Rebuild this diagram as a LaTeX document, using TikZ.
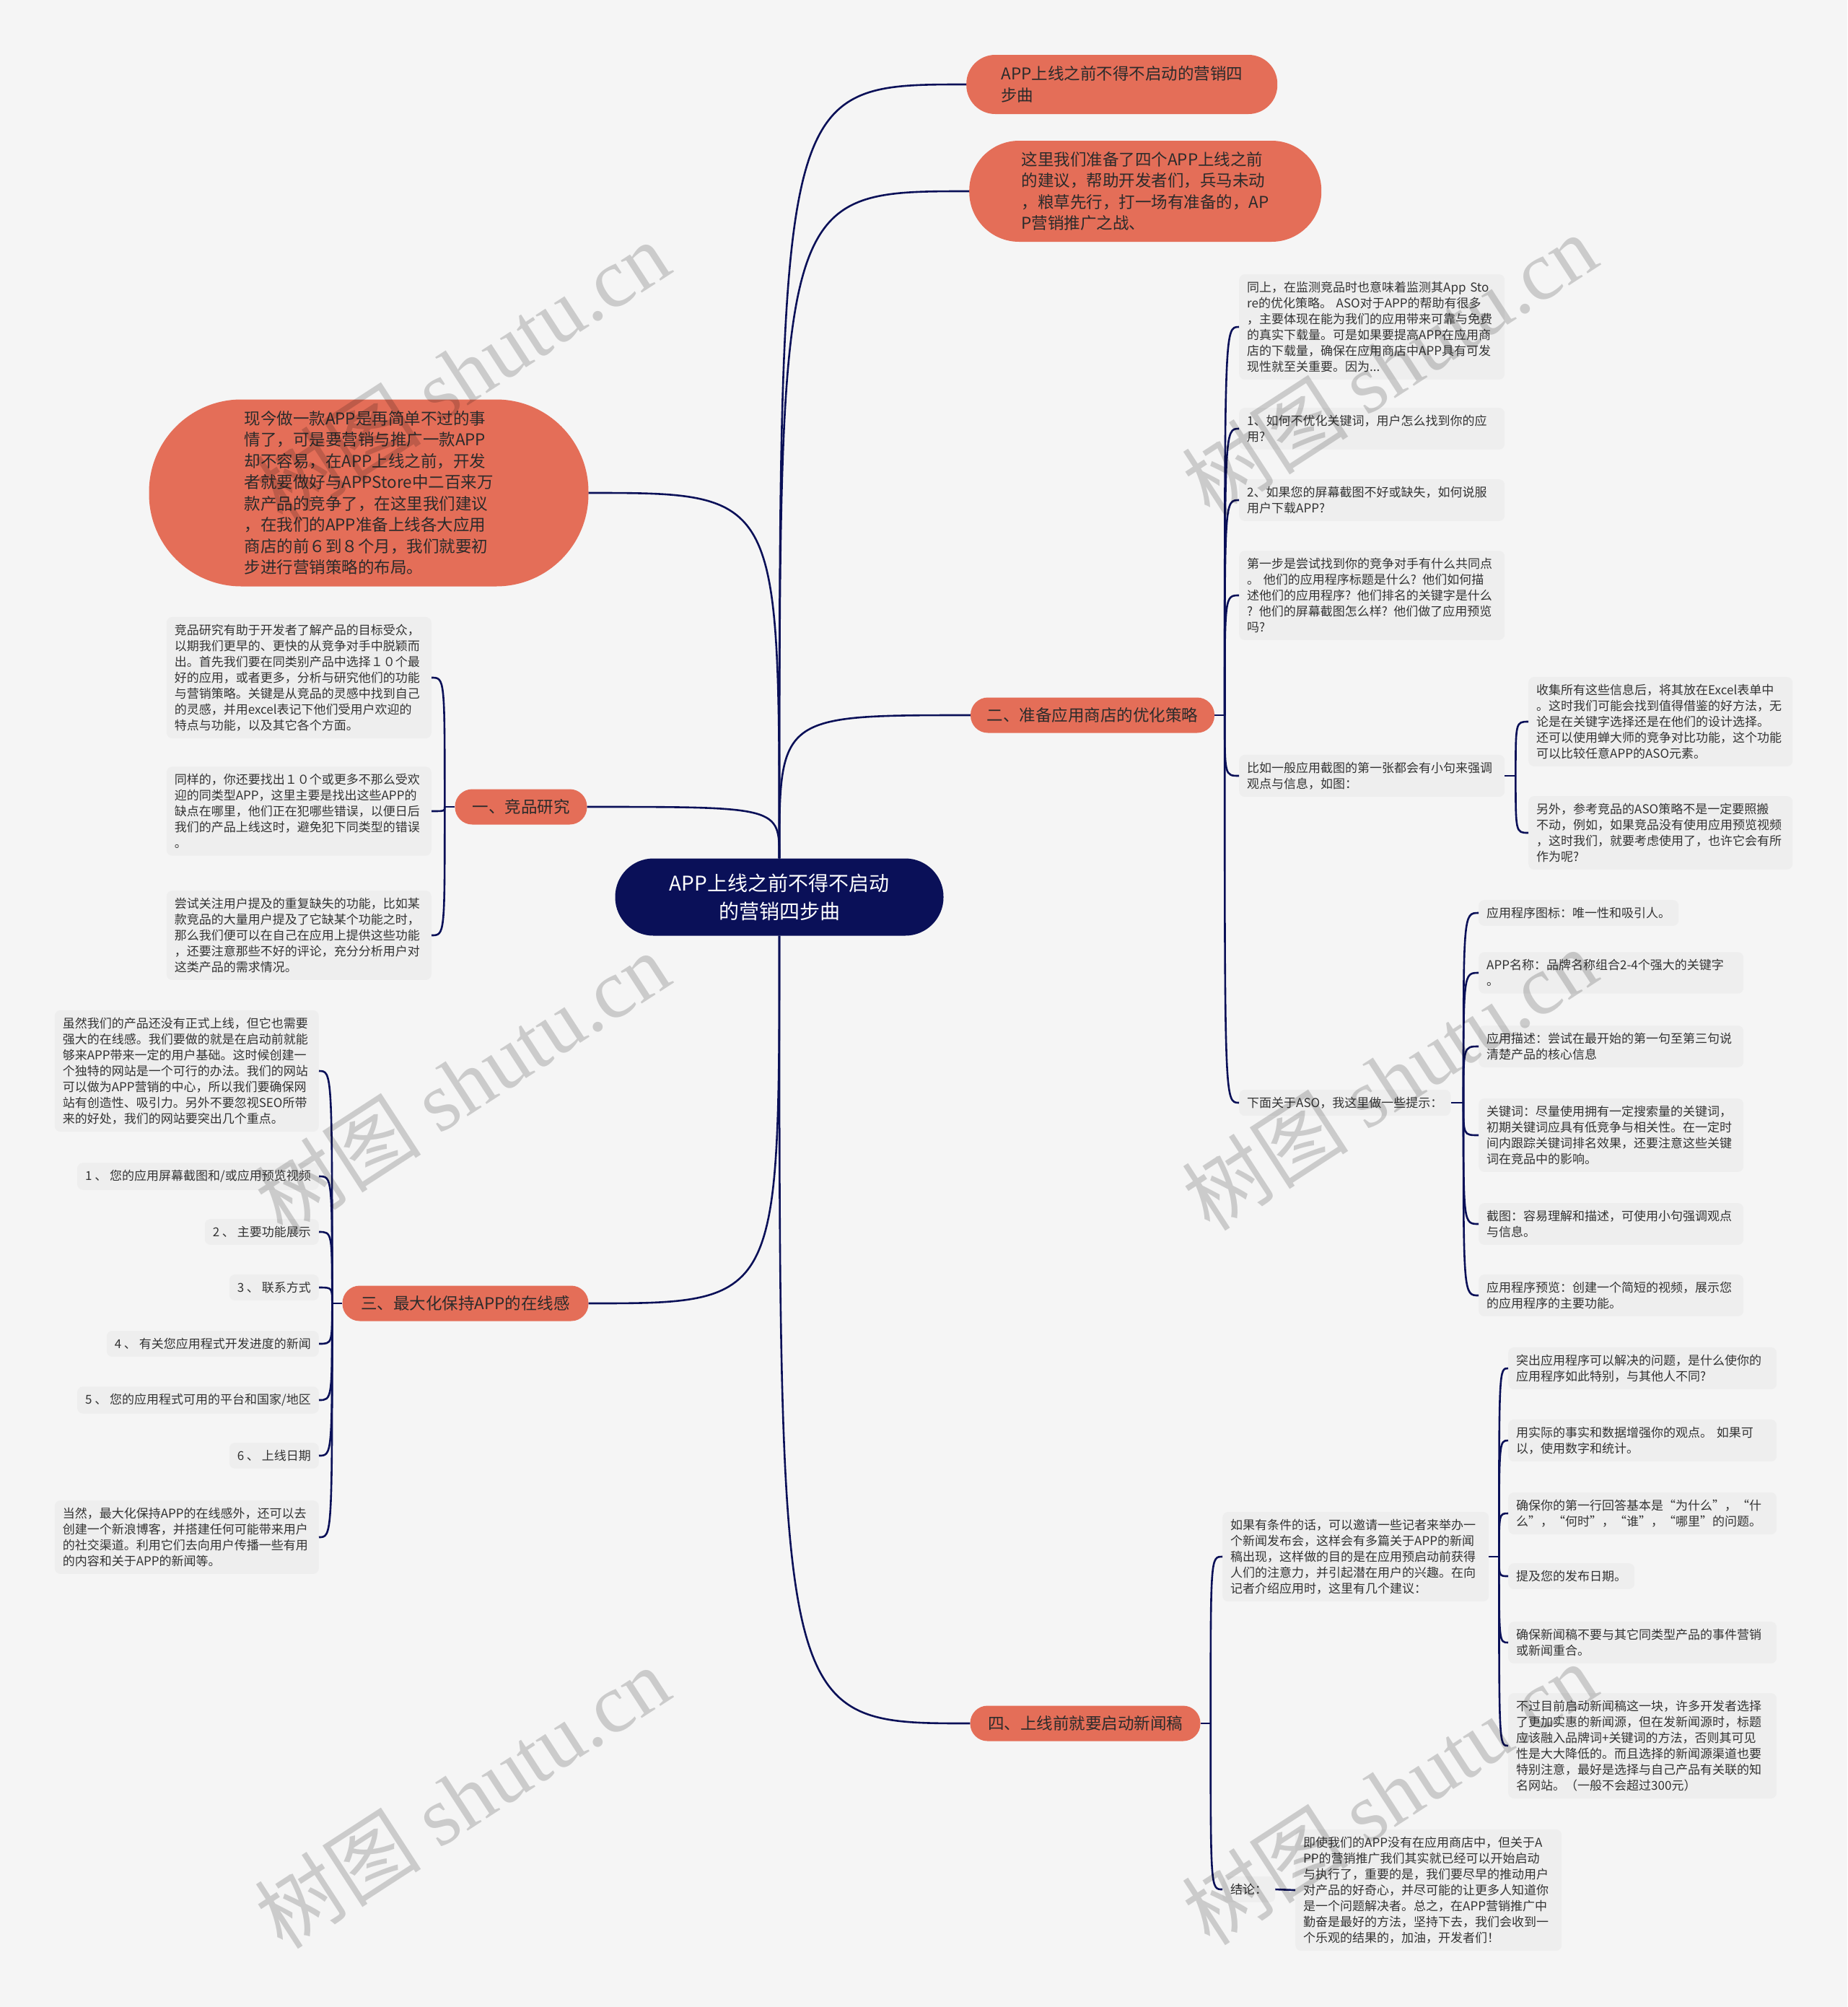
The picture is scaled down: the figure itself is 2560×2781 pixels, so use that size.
\documentclass[tikz,border=0pt]{standalone}
\usepackage{fontspec}
\setmainfont{Noto Sans CJK SC}
\newfontfamily\wmfont{Liberation Serif}
\definecolor{bgc}{HTML}{F5F5F5}
\definecolor{navy}{HTML}{0A1058}
\definecolor{coral}{HTML}{E46E58}
\definecolor{leafc}{HTML}{EEEEEE}
\definecolor{txt}{HTML}{333333}
\definecolor{ctxt}{HTML}{2B2B2B}
\begin{document}
\begin{tikzpicture}[x=1pt,y=-1pt,
 conn/.style={draw=navy,line width=2.6pt},
 leaf/.style={fill=leafc,rounded corners=8pt,inner xsep=11pt,inner ysep=10pt,font=\fontsize{17}{22}\selectfont,text=txt,align=left},
 leafw/.style={leaf,text width=#1},
 pill/.style={fill=coral,text=ctxt,font=\fontsize{22.5}{29.5}\selectfont,align=left,inner sep=0pt},
 branch/.style={fill=coral,text=ctxt,font=\fontsize{22.5}{27}\selectfont,align=center,inner sep=0pt,rounded corners=24pt,minimum height=49pt},
 wm/.style={text=black,text opacity=0.17,rotate=33,font=\fontsize{116}{116}\selectfont,inner sep=0pt}
]
\fill[bgc] (0,0) rectangle (2560,2781);
\useasboundingbox (0,0) rectangle (2560,2781);

% root and main nodes
\node[fill=navy,text=white,font=\fontsize{28}{39}\selectfont,align=center,minimum width=455pt,minimum height=107pt,rounded corners=53pt,inner sep=0pt] (root) at (1080,1243) {APP上线之前不得不启动\\的营销四步曲};

\node[pill,minimum width=431pt,minimum height=82pt,rounded corners=40pt,anchor=west] (t1) at (1339,117) {APP上线之前不得不启动的营销四\\步曲};
\node[pill,minimum width=488pt,minimum height=140pt,rounded corners=69pt,anchor=west] (t2) at (1343,265) {这里我们准备了四个APP上线之前\\的建议，帮助开发者们，兵马未动\\，粮草先行，打一场有准备的，AP\\P营销推广之战、};
\node[pill,minimum width=609pt,minimum height=259pt,rounded corners=128pt] (lb) at (511,683) {现今做一款APP是再简单不过的事\\情了，可是要营销与推广一款APP\\却不容易，在APP上线之前，开发\\者就要做好与APPStore中二百来万\\款产品的竞争了，在这里我们建议\\，在我们的APP准备上线各大应用\\商店的前６到８个月，我们就要初\\步进行营销策略的布局。};

\node[branch,minimum width=183pt] (b1) at (722,1118) {一、竞品研究};
\node[branch,minimum width=338pt] (b2) at (1514,991) {二、准备应用商店的优化策略};
\node[branch,minimum width=341pt] (b3) at (645,1806) {三、最大化保持APP的在线感};
\node[branch,minimum width=319pt] (b4) at (1504,2388) {四、上线前就要启动新闻稿};

% branch 2 leaves
\node[leafw=346pt,anchor=west] (c1) at (1717,453) {同上，在监测竞品时也意味着监测其App Sto\\re的优化策略。 ASO对于APP的帮助有很多\\，主要体现在能为我们的应用带来可靠与免费\\的真实下载量。可是如果要提高APP在应用商\\店的下载量，确保在应用商店中APP具有可发\\现性就至关重要。因为...};
\node[leafw=346pt,anchor=west] (c2) at (1717,594) { 1、如何不优化关键词，用户怎么找到你的应\\用?};
\node[leafw=346pt,anchor=west] (c3) at (1717,693) { 2、如果您的屏幕截图不好或缺失，如何说服\\用户下载APP?};
\node[leafw=346pt,anchor=west] (c4) at (1717,825) {第一步是尝试找到你的竞争对手有什么共同点\\。 他们的应用程序标题是什么? 他们如何描\\述他们的应用程序? 他们排名的关键字是什么\\? 他们的屏幕截图怎么样? 他们做了应用预览\\吗?};
\node[leafw=346pt,anchor=west] (c5) at (1717,1075) {比如一般应用截图的第一张都会有小句来强调\\观点与信息，如图：};
\node[leafw=344pt,anchor=west] (c5a) at (2118,1000) {收集所有这些信息后，将其放在Excel表单中\\。这时我们可能会找到值得借鉴的好方法，无\\论是在关键字选择还是在他们的设计选择。\\还可以使用蝉大师的竞争对比功能，这个功能\\可以比较任意APP的ASO元素。};
\node[leafw=344pt,anchor=west] (c5b) at (2118,1154) {另外，参考竞品的ASO策略不是一定要照搬\\不动，例如，如果竞品没有使用应用预览视频\\，这时我们，就要考虑使用了，也许它会有所\\作为呢?};
\node[leaf,anchor=west] (c6) at (1717,1528) {下面关于ASO，我这里做一些提示：};
\node[leaf,anchor=west] (i1) at (2049,1265) {应用程序图标：唯一性和吸引人。};
\node[leafw=345pt,anchor=west] (i2) at (2049,1348) {APP名称：品牌名称组合2-4个强大的关键字\\。};
\node[leafw=345pt,anchor=west] (i3) at (2049,1450) {应用描述：尝试在最开始的第一句至第三句说\\清楚产品的核心信息};
\node[leafw=345pt,anchor=west] (i4) at (2049,1573) {关键词：尽量使用拥有一定搜索量的关键词，\\初期关键词应具有低竞争与相关性。在一定时\\间内跟踪关键词排名效果，还要注意这些关键\\词在竞品中的影响。};
\node[leafw=345pt,anchor=west] (i5) at (2049,1696) {截图：容易理解和描述，可使用小句强调观点\\与信息。};
\node[leafw=345pt,anchor=west] (i6) at (2049,1795) {应用程序预览：创建一个简短的视频，展示您\\的应用程序的主要功能。};

% branch 1 leaves
\node[leafw=345pt,anchor=east] (a1) at (598,939) {竞品研究有助于开发者了解产品的目标受众，\\以期我们更早的、更快的从竞争对手中脱颖而\\出。首先我们要在同类别产品中选择１０个最\\好的应用，或者更多，分析与研究他们的功能\\与营销策略。关键是从竞品的灵感中找到自己\\的灵感，并用excel表记下他们受用户欢迎的\\特点与功能，以及其它各个方面。};
\node[leafw=345pt,anchor=east] (a2) at (598,1124) {同样的，你还要找出１０个或更多不那么受欢\\迎的同类型APP，这里主要是找出这些APP的\\缺点在哪里，他们正在犯哪些错误，以便日后\\我们的产品上线这时，避免犯下同类型的错误\\。};
\node[leafw=345pt,anchor=east] (a3) at (598,1296) {尝试关注用户提及的重复缺失的功能，比如某\\款竞品的大量用户提及了它缺某个功能之时，\\那么我们便可以在自己在应用上提供这些功能\\，还要注意那些不好的评论，充分分析用户对\\这类产品的需求情况。};

% branch 3 leaves
\node[leafw=344pt,anchor=east] (d0) at (442,1484) {虽然我们的产品还没有正式上线，但它也需要\\强大的在线感。我们要做的就是在启动前就能\\够来APP带来一定的用户基础。这时候创建一\\个独特的网站是一个可行的办法。我们的网站\\可以做为APP营销的中心，所以我们要确保网\\站有创造性、吸引力。另外不要忽视SEO所带\\来的好处，我们的网站要突出几个重点。};
\node[leaf,anchor=east] (d1) at (442,1630) {1 、 您的应用屏幕截图和/或应用预览视频};
\node[leaf,anchor=east] (d2) at (442,1707) {2 、 主要功能展示};
\node[leaf,anchor=east] (d3) at (442,1784) {3 、 联系方式};
\node[leaf,anchor=east] (d4) at (442,1862) {4 、 有关您应用程式开发进度的新闻};
\node[leaf,anchor=east] (d5) at (442,1940) {5 、 您的应用程式可用的平台和国家/地区};
\node[leaf,anchor=east] (d6) at (442,2017) {6 、 上线日期};
\node[leafw=344pt,anchor=east] (d7) at (442,2130) {当然，最大化保持APP的在线感外，还可以去\\创建一个新浪博客，并搭建任何可能带来用户\\的社交渠道。利用它们去向用户传播一些有用\\的内容和关于APP的新闻等。};

% branch 4 leaves
\node[leafw=347pt,anchor=west] (m) at (1694,2157) {如果有条件的话，可以邀请一些记者来举办一\\个新闻发布会，这样会有多篇关于APP的新闻\\稿出现，这样做的目的是在应用预启动前获得\\人们的注意力，并引起潜在用户的兴趣。在向\\记者介绍应用时，这里有几个建议：};
\node[leafw=350pt,anchor=west] (m1) at (2090,1896) {突出应用程序可以解决的问题，是什么使你的\\应用程序如此特别，与其他人不同?};
\node[leafw=350pt,anchor=west] (m2) at (2090,1996) {用实际的事实和数据增强你的观点。 如果可\\以，使用数字和统计。};
\node[leafw=350pt,anchor=west] (m3) at (2090,2097) {确保你的第一行回答基本是“为什么”，“什\\么”，“何时”，“谁”，“哪里”的问题。};
\node[leaf,anchor=west] (m4) at (2090,2184) {提及您的发布日期。};
\node[leafw=350pt,anchor=west] (m5) at (2090,2276) {确保新闻稿不要与其它同类型产品的事件营销\\或新闻重合。};
\node[leafw=350pt,anchor=west] (m6) at (2090,2419) {不过目前启动新闻稿这一块，许多开发者选择\\了更加实惠的新闻源，但在发新闻源时，标题\\应该融入品牌词+关键词的方法，否则其可见\\性是大大降低的。而且选择的新闻源渠道也要\\特别注意，最好是选择与自己产品有关联的知\\名网站。（一般不会超过300元）};
\node[leaf,anchor=west] (k) at (1694,2618) {结论：};
\node[leafw=347pt,anchor=west] (k1) at (1795,2619) {即使我们的APP没有在应用商店中，但关于A\\PP的营销推广我们其实就已经可以开始启动\\与执行了，重要的是，我们要尽早的推动用户\\对产品的好奇心，并尽可能的让更多人知道你\\是一个问题解决者。总之，在APP营销推广中\\勤奋是最好的方法，坚持下去，我们会收到一\\个乐观的结果的，加油，开发者们！};

% connectors from root
\foreach \t in {t1,t2,b2}
  \draw[conn] (root.north) .. controls (root.north |- \t.west) and (root.north |- \t.west) .. (\t.west);
\foreach \t in {lb,b1}
  \draw[conn] (root.north) .. controls (root.north |- \t.east) and (root.north |- \t.east) .. (\t.east);
\draw[conn] (root.south) .. controls (root.south |- b3.east) and (root.south |- b3.east) .. (b3.east);
\draw[conn] (root.south) .. controls (root.south |- b4.west) and (root.south |- b4.west) .. (b4.west);

% brackets
\path (b2.east) ++(14,0) coordinate (s2);
\draw[conn] (b2.east) -- (s2);
\foreach \c in {c1,c2,c3,c4,c5,c6}
  \draw[conn] (s2) .. controls (s2 |- \c.west) and (s2 |- \c.west) .. (\c.west);
\path (c5.east) ++(15,0) coordinate (s5);
\draw[conn] (c5.east) -- (s5);
\foreach \c in {c5a,c5b}
  \draw[conn] (s5) .. controls (s5 |- \c.west) and (s5 |- \c.west) .. (\c.west);
\coordinate (s6) at (2028,1528);
\draw[conn] (c6.east) -- (s6);
\foreach \c in {i1,i2,i3,i4,i5,i6}
  \draw[conn] (s6) .. controls (s6 |- \c.west) and (s6 |- \c.west) .. (\c.west);
\path (b1.west) ++(-14,0) coordinate (s1);
\draw[conn] (b1.west) -- (s1);
\foreach \c in {a1,a2,a3}
  \draw[conn] (s1) .. controls (s1 |- \c.east) and (s1 |- \c.east) .. (\c.east);
\path (b3.west) ++(-14,0) coordinate (s3);
\draw[conn] (b3.west) -- (s3);
\foreach \c in {d0,d1,d2,d3,d4,d5,d6,d7}
  \draw[conn] (s3) .. controls (s3 |- \c.east) and (s3 |- \c.east) .. (\c.east);
\path (b4.east) ++(14,0) coordinate (s4);
\draw[conn] (b4.east) -- (s4);
\foreach \c in {m,k}
  \draw[conn] (s4) .. controls (s4 |- \c.west) and (s4 |- \c.west) .. (\c.west);
\path (m.east) ++(14,0) coordinate (s7);
\draw[conn] (m.east) -- (s7);
\foreach \c in {m1,m2,m3,m4,m5,m6}
  \draw[conn] (s7) .. controls (s7 |- \c.west) and (s7 |- \c.west) .. (\c.west);
\draw[conn] (k.east) -- (k1.west);

% watermarks
\foreach \p [count=\i] in {(640,515),(1925,505),(640,1500),(1925,1495),(640,2490),(1925,2485)}
  \node[wm] (w\i) at \p {树图 {\wmfont shutu.cn}};
\end{tikzpicture}
\end{document}
